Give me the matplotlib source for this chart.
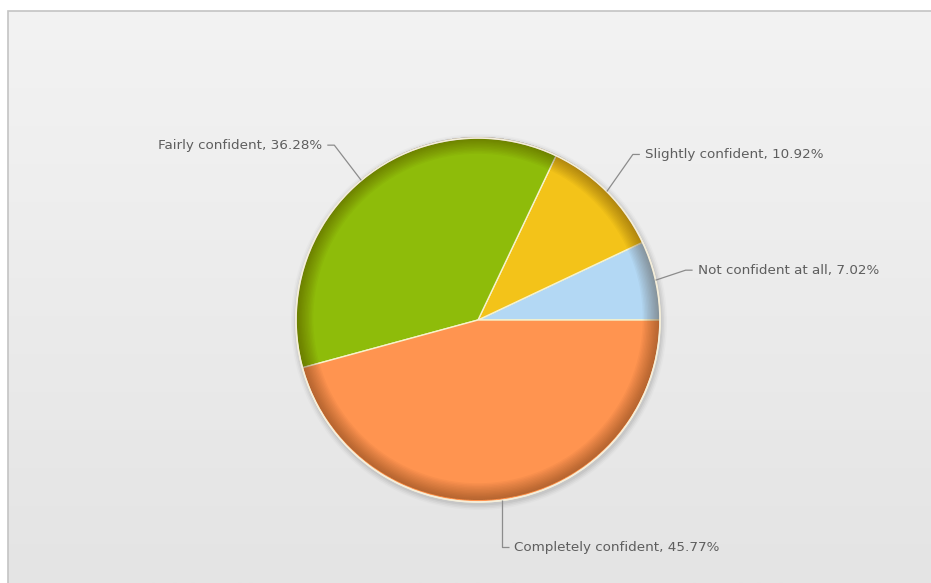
import numpy as np
import matplotlib
matplotlib.use("Agg")
import matplotlib.pyplot as plt
from matplotlib.patches import Wedge, Rectangle, Circle

labels = ["Not confident at all", "Slightly confident", "Fairly confident", "Completely confident"]
values = [7.02, 10.92, 36.28, 45.77]
colors = ["#B3D8F4", "#F3C319", "#8EBC0A", "#FF9450"]

W, H = 931, 583
fig = plt.figure(figsize=(W / 100, H / 100), dpi=100)
ax = fig.add_axes([0, 0, 1, 1])
ax.set_xlim(0, W)
ax.set_ylim(0, H)
ax.set_aspect("equal")
ax.axis("off")

# background frame with vertical gradient
fx0, fy_top = 8, 11
grad = np.linspace(0, 1, 256).reshape(-1, 1)
top = np.array([243, 243, 243]) / 255
bot = np.array([228, 228, 228]) / 255
img = top + (bot - top) * grad[..., None].repeat(1, axis=1)
ax.imshow(img, extent=[fx0, W + 2, 0, H - fy_top], origin="upper", aspect="auto", zorder=0)
ax.add_patch(Rectangle((fx0, -5), W, H - fy_top + 5, fill=False, edgecolor="#c4c4c4", lw=1.2, zorder=1))

cx, cy, R = 478, H - 320, 182

# soft shadow around pie
for i, a in enumerate([0.05, 0.04, 0.03, 0.02]):
    ax.add_patch(Circle((cx + 1, cy - 2), R + 1.5 + i * 1.5, color="#000000", alpha=a, lw=0, zorder=1.5))

wedges, _ = ax.pie(values, colors=colors, startangle=0, counterclock=True,
                   center=(cx, cy), radius=R, frame=False,
                   wedgeprops=dict(edgecolor="#f7f3cc", linewidth=1.0, zorder=2))
ax.set_xlim(0, W)
ax.set_ylim(0, H)
ax.axis("off")

# rim shading (slightly offset downward, lit from above)
nsteps = 12
for k in range(nsteps):
    r_out = R - 0.5
    frac = k / nsteps
    r_in = R * (0.905 + 0.095 * frac)
    ax.add_patch(Wedge((cx, cy + 1.5), r_out, 0, 360, width=r_out - r_in,
                       facecolor="#3a1a00", alpha=0.035, lw=0, zorder=3))
ax.add_patch(Circle((cx, cy), R, fill=False, edgecolor="#f4eedc", lw=1.2, zorder=4))

# labels with leader lines
tot = sum(values)
start = 0.0
for lab, v in zip(labels, values):
    mid = np.deg2rad((start + v / 2) / tot * 360)
    start += v
    c, s = np.cos(mid), np.sin(mid)
    x0, y0 = cx + R * c, cy + R * s
    if s < -0.9:
        x1, y1 = x0, y0 - 47
    elif c > 0 and s < 0.5:
        x1, y1 = x0 + 30, y0 + 10
    elif c > 0:
        x1, y1 = x0 + 26, y0 + 37
    else:
        x1, y1 = cx + (R + 42) * c, cy + (R + 42) * s + 3
    side = 1 if c >= 0 else -1
    x2 = x1 + side * 7
    ax.plot([x0, x1, x2], [y0, y1, y1], color="#8c8c8c", lw=0.9, zorder=5,
            solid_capstyle="butt")
    ax.text(x2 + side * 5, y1, f"{lab}, {v:.2f}%", ha="left" if side > 0 else "right",
            va="center", fontsize=9.7, color="#5e5e5e", family="DejaVu Sans", zorder=6)

fig.savefig("out.png", dpi=100)
